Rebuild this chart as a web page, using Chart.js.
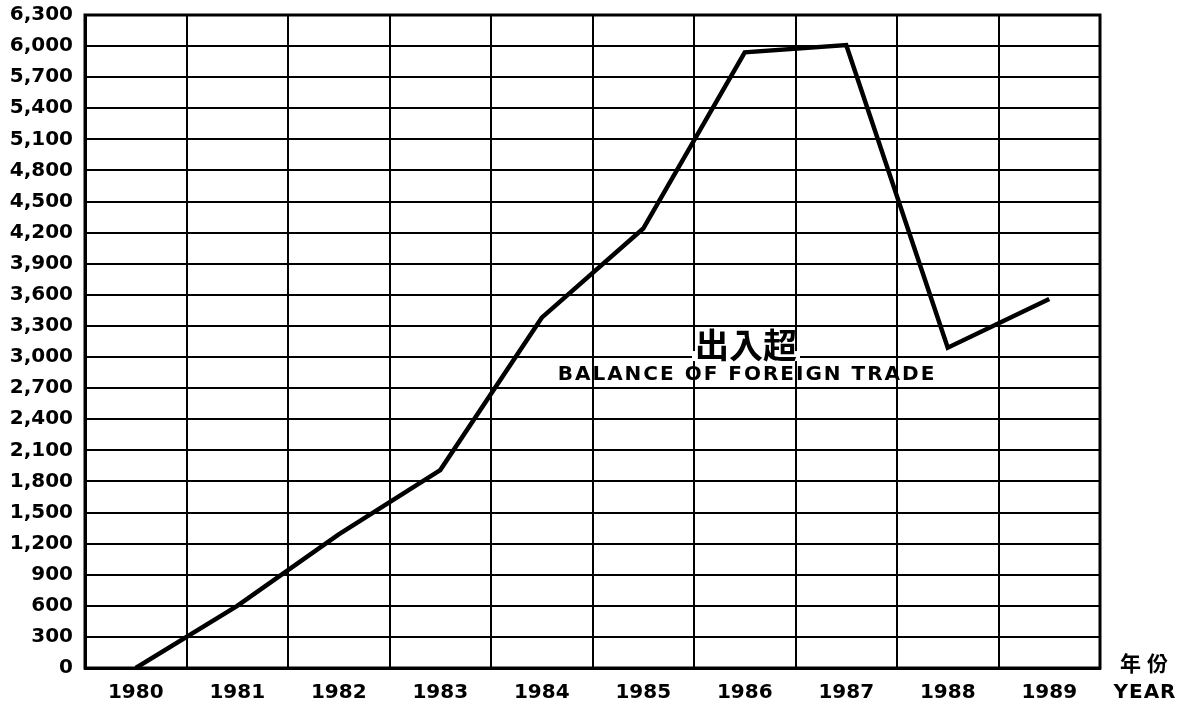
<!DOCTYPE html>
<html>
<head>
<meta charset="utf-8">
<title>Balance of Foreign Trade</title>
<script src="https://cdn.jsdelivr.net/npm/chart.js@4/dist/chart.umd.min.js"></script>
<style>
    html, body { margin: 0; padding: 0; background: #fff; }
    #wrap { width: 1184px; height: 706px; }
</style>
</head>
<body>
<div id="wrap"><canvas id="tradeChart" width="1184" height="706"></canvas></div>
<script>
// Data
const years = ['1980', '1981', '1982', '1983', '1984', '1985', '1986', '1987', '1988', '1989'];
const balance = [0, 600, 1290, 1910, 3380, 4240, 5940, 6010, 3090, 3560];
const yTicks = [0, 300, 600, 900, 1200, 1500, 1800, 2100, 2400, 2700, 3000, 3300, 3600,
    3900, 4200, 4500, 4800, 5100, 5400, 5700, 6000, 6300];

const labelFont = { family: 'DejaVu Sans', size: 20, weight: 'bold' };

// White page behind the chart
const whiteBackground = {
    id: 'whiteBackground',
    beforeDraw(chart) {
        const ctx = chart.ctx;
        ctx.save();
        ctx.fillStyle = '#fff';
        ctx.fillRect(0, 0, chart.width, chart.height);
        ctx.restore();
    }
};

// Heavy frame, the in-chart caption and the axis title at bottom right
const frameAndText = {
    id: 'frameAndText',
    afterDraw(chart) {
        const ctx = chart.ctx;
        const a = chart.chartArea;
        const y = chart.scales.y;
        ctx.save();

        ctx.strokeStyle = '#000';
        ctx.lineWidth = 3;
        ctx.strokeRect(a.left, a.top, a.right - a.left, a.bottom - a.top);

        // caption straddles the 3,000 line, white behind the Chinese title
        const cx = 746;
        const cy = y.getPixelForValue(3000);
        ctx.font = 'bold 34px "Noto Sans CJK TC"';
        const w = ctx.measureText('出入超').width;
        ctx.fillStyle = '#fff';
        ctx.fillRect(cx - w / 2 - 3, cy - 6, w + 6, 10);
        ctx.fillStyle = '#000';
        ctx.textAlign = 'center';
        ctx.textBaseline = 'middle';
        ctx.fillText('出入超', cx, cy - 12);
        ctx.font = 'bold 20px "DejaVu Sans"';
        ctx.letterSpacing = '2px';
        ctx.fillText('BALANCE OF FOREIGN TRADE', cx + 1, cy + 18);

        // axis title
        ctx.font = 'bold 21px "Noto Sans CJK TC"';
        ctx.letterSpacing = '6px';
        ctx.fillText('年份', 1147, 663);
        ctx.font = 'bold 20px "DejaVu Sans"';
        ctx.letterSpacing = '1px';
        ctx.fillText('YEAR', 1145, 693);

        ctx.restore();
    }
};

function renderTradeChart() {
    const ctx = document.getElementById('tradeChart').getContext('2d');

    new Chart(ctx, {
        type: 'line',
        data: {
            labels: years,
            datasets: [{
                label: 'Balance of foreign trade',
                data: balance,
                borderColor: '#000',
                borderWidth: 4.5,
                pointRadius: 0,
                tension: 0,
                fill: false
            }]
        },
        options: {
            responsive: false,
            animation: false,
            layout: { padding: { top: 15, right: 84, left: 0, bottom: 0 } },
            plugins: {
                legend: { display: false },
                tooltip: { enabled: false }
            },
            scales: {
                x: {
                    type: 'category',
                    offset: true,
                    grid: { color: '#000', lineWidth: 2, offset: true, drawTicks: false },
                    border: { color: '#000', width: 3 },
                    ticks: { color: '#000', font: labelFont, padding: 13, maxRotation: 0 },
                    afterFit(scale) { scale.height = 38; }
                },
                y: {
                    min: 0,
                    max: 6300,
                    afterBuildTicks(scale) {
                        scale.ticks = yTicks.map(v => ({ value: v }));
                    },
                    grid: { color: '#000', lineWidth: 2, drawTicks: false },
                    border: { color: '#000', width: 3 },
                    ticks: {
                        color: '#000',
                        font: labelFont,
                        padding: 12,
                        callback: function(value) {
                            return value.toLocaleString('en-US');
                        }
                    },
                    afterFit(scale) {
                        scale.width = 85;
                        scale.paddingTop = 0;
                        scale.paddingBottom = 0;
                    }
                }
            }
        },
        plugins: [whiteBackground, frameAndText]
    });
}

document.addEventListener('DOMContentLoaded', renderTradeChart);
</script>
</body>
</html>
